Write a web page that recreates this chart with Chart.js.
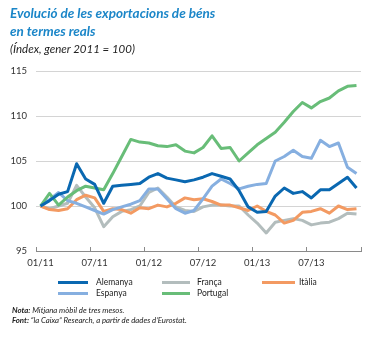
<!DOCTYPE html>
<html><head><meta charset="utf-8">
<script src="https://cdn.jsdelivr.net/npm/chart.js@4.4.1/dist/chart.umd.min.js"></script>
<style>
html,body{margin:0;padding:0;background:#fff;}
#wrap{position:relative;width:373px;height:338px;overflow:hidden;font-family:Lato,"Noto Sans",sans-serif;}
#c{position:absolute;left:0;top:0;}
.title{position:absolute;left:10px;top:5px;color:#1b86c8;font-weight:bold;font-style:italic;font-size:13.5px;line-height:17.5px;white-space:nowrap;}
.sub{position:absolute;left:10px;top:42px;color:#222;font-style:italic;font-size:11.5px;line-height:14px;white-space:nowrap;}
.lg{position:absolute;font-size:8.5px;color:#222;line-height:10px;white-space:nowrap;}
.sw{position:absolute;height:3px;}
.note{position:absolute;left:12px;top:305px;font-size:7.8px;line-height:10px;font-style:italic;color:#222;white-space:nowrap;}
.note b{font-weight:bold;}
</style></head>
<body>
<div id="wrap">
<canvas id="c" width="373" height="338"></canvas>
<div class="title">Evolució de les exportacions de béns<br>en termes reals</div>
<div class="sub">(Índex, gener 2011 = 100)</div>
<div id="legend"></div>
<div class="note"><b>Nota:</b> Mitjana mòbil de tres mesos.<br><b>Font:</b> “la Caixa” Research, a partir de dades d’Eurostat.</div>
</div>
<script>
const months = ['01/11','02/11','03/11','04/11','05/11','06/11','07/11','08/11','09/11','10/11','11/11','12/11',
  '01/12','02/12','03/12','04/12','05/12','06/12','07/12','08/12','09/12','10/12','11/12','12/12',
  '01/13','02/13','03/13','04/13','05/13','06/13','07/13','08/13','09/13','10/13','11/13','12/13'];
const yTicks = [95, 100, 105, 110, 115];
const seriesNames = ['Alemanya','Espanya','França','Portugal','Itàlia'];
const alemanya = [100,100.6,101.3,101.6,104.7,103.0,102.4,100.3,102.2,102.3,102.4,102.5,103.2,103.6,103.1,102.9,102.7,102.9,103.2,103.6,103.3,103.0,101.7,99.9,99.3,99.4,101.1,102.0,101.4,101.6,100.9,101.8,101.8,102.5,103.2,102.0];
const espanya = [100,100.7,101.5,100.6,100.3,99.9,99.5,99.1,99.6,99.9,100.2,100.6,101.9,101.9,100.8,99.7,99.2,99.5,100.8,102.2,103.0,102.5,101.9,102.2,102.4,102.5,105.0,105.5,106.2,105.5,105.3,107.3,106.6,107.0,104.3,103.6];
const franca = [100,99.7,100.0,100.3,102.3,101.0,99.8,97.7,98.8,99.4,99.6,100.0,101.5,102.0,101.0,99.9,99.5,99.4,99.9,100.1,100.1,100.0,100.0,99.0,98.1,97.0,98.2,98.4,98.6,98.4,97.9,98.1,98.2,98.6,99.2,99.1];
const portugal = [100,101.4,100.1,101.0,101.7,102.2,102.0,101.8,103.6,105.5,107.4,107.1,107.0,106.7,106.6,106.8,106.1,105.9,106.5,107.8,106.4,106.5,105.0,105.9,106.8,107.5,108.2,109.3,110.5,111.5,110.9,111.6,112.0,112.8,113.3,113.4];
const italia = [100,99.6,99.5,99.7,100.7,101.2,100.9,99.4,99.7,99.6,99.2,99.8,99.7,100.1,99.9,100.3,100.9,100.7,100.8,100.5,100.1,100.1,99.8,99.5,100.0,99.4,99.0,98.1,98.4,99.3,99.4,99.7,99.2,100.0,99.6,99.7];
const colors = {Alemanya:'#0a68b1', Espanya:'#86afe0', 'França':'#b3bdbd', Portugal:'#68bd78', 'Itàlia':'#f39a62'};
const values = {Alemanya:alemanya, Espanya:espanya, 'França':franca, Portugal:portugal, 'Itàlia':italia};

// legend (HTML)
const legendPos = {Alemanya:[58,88,96,282], Espanya:[58,88,96,293], 'França':[162,190,197,282], Portugal:[162,190,197,293], 'Itàlia':[262,295,299,282]};
const lg = document.getElementById('legend');
seriesNames.forEach(n => {
  const p = legendPos[n];
  const s = document.createElement('div'); s.className='sw';
  s.style.left=p[0]+'px'; s.style.width=(p[1]-p[0])+'px'; s.style.top=(p[3]-1.5)+'px'; s.style.background=colors[n];
  lg.appendChild(s);
  const t = document.createElement('div'); t.className='lg'; t.textContent=n;
  t.style.left=p[2]+'px'; t.style.top=(p[3]-5.5)+'px';
  lg.appendChild(t);
});

const drawOrder = ['França','Itàlia','Espanya','Portugal','Alemanya'];
const datasets = drawOrder.map((n,i) => ({
  label:n, data:values[n], borderColor:colors[n], backgroundColor:colors[n],
  borderWidth:3, pointRadius:0, tension:0, fill:false, order: drawOrder.length - i,
  borderJoinStyle:'round', borderCapStyle:'butt'
}));

new Chart(document.getElementById('c'), {
  type:'line',
  data:{labels:months, datasets},
  options:{
    responsive:false, animation:false,
    layout:{padding:{top:71,right:12,left:0,bottom:0}},
    plugins:{legend:{display:false}, tooltip:{enabled:false}},
    scales:{
      x:{
        type:'category', offset:true,
        grid:{offset:true, drawOnChartArea:false, drawTicks:true, tickLength:-4,
          color:c => (c.index===undefined || c.index%6===0) ? '#8a8a8a' : 'rgba(0,0,0,0)', lineWidth:1},
        border:{display:true,color:'#8a8a8a',width:1},
        ticks:{autoSkip:false,maxRotation:0,minRotation:0,padding:10,color:'#333',
          font:{family:'Lato',size:9.5}, callback:(v,i) => i%6===0 ? months[i] : ''},
        afterFit:s => { s.height = 87; }
      },
      y:{
        min:95, max:115,
        afterBuildTicks:s => { s.ticks = yTicks.map(v => ({value:v})); },
        grid:{drawTicks:false, color:c => (c.tick && c.tick.value===95) ? 'rgba(0,0,0,0)' : '#d4d4d4', lineWidth:1},
        border:{display:false},
        ticks:{padding:9,color:'#333',font:{family:'Lato',size:9.5}},
        afterFit:s => { s.width = 36; }
      }
    }
  }
});
</script>
</body></html>
